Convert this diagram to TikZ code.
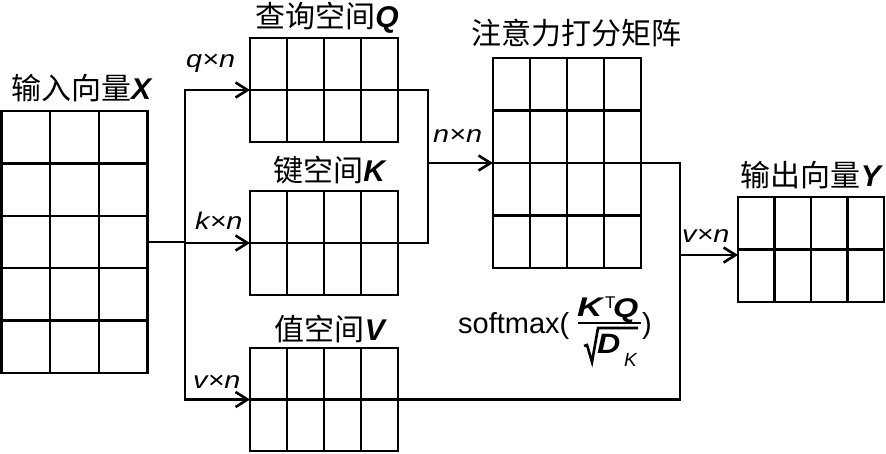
\documentclass[tikz,border=0pt]{standalone}
\usepackage{fontspec}
\setmainfont{Liberation Sans}
\newfontfamily\cjk{Noto Sans CJK SC}
\usetikzlibrary{arrows.meta,calc}
\newcommand{\cells}[3]{%
  \pgfmathtruncatemacro\gnc{#2-1}\pgfmathtruncatemacro\gnr{#3-1}%
  \foreach \i in {1,...,\gnc}{\draw[gridline] ($(#1.north west)!\i/#2!(#1.north east)$) -- ($(#1.south west)!\i/#2!(#1.south east)$);}%
  \foreach \j in {1,...,\gnr}{\draw[gridline] ($(#1.north west)!\j/#3!(#1.south west)$) -- ($(#1.north east)!\j/#3!(#1.south east)$);}%
}
\tikzset{
  grid/.style={draw, line width=2.4pt, inner sep=0pt, outer sep=0pt, rectangle},
  gridline/.style={line width=2.4pt},
  conn/.style={line width=2.5pt, line join=miter},
  arr/.style={line width=2.5pt, -{Straight Barb[length=12pt,width=15pt,line width=2.6pt]}},
  ttl/.style={inner sep=0pt, font=\fontsize{30}{36}\selectfont},
  dim/.style={inner sep=0pt, anchor=base west, font=\fontsize{24}{28}\selectfont\itshape},
  frm/.style={inner sep=0pt, anchor=base west},
}
\newcommand{\bi}[1]{\textbf{\textit{#1}}}
\newcommand{\wide}[1]{\scalebox{1.2}[1]{#1}}
\begin{document}
\begin{tikzpicture}[x=1pt,y=-1pt]
\useasboundingbox (0,0) rectangle (886,453);
% matrices
\node[grid, minimum width=146pt, minimum height=262pt] (X) at (74.5,242) {};
\node[grid, minimum width=148pt, minimum height=104pt] (Q) at (324,90) {};
\node[grid, minimum width=148pt, minimum height=104pt] (K) at (324,243) {};
\node[grid, minimum width=148pt, minimum height=103pt] (V) at (324,399.5) {};
\node[grid, minimum width=148pt, minimum height=210pt] (A) at (567,163) {};
\node[grid, minimum width=146pt, minimum height=105pt] (Y) at (811,249.5) {};
\cells{X}{3}{5}
\cells{Q}{4}{2}
\cells{K}{4}{2}
\cells{V}{4}{2}
\cells{A}{4}{4}
\cells{Y}{4}{2}
% titles
\node[ttl] (tX) at (82,88) {{\cjk 输入向量}\bi{X}};
\node[ttl] (tQ) at (327,18) {{\cjk 查询空间}\bi{Q}};
\node[ttl] (tK) at (330,170) {{\cjk 键空间}\bi{K}};
\node[ttl] (tV) at (331,329) {{\cjk 值空间}\bi{V}};
\node[ttl] (tA) at (576,33) {\cjk 注意力打分矩阵};
\node[ttl] (tY) at (812,175) {{\cjk 输出向量}\bi{Y}};
% connectors
\coordinate (tr) at (185,0);
\coordinate (m1) at (428,0);
\coordinate (m2) at (680,0);
\coordinate (yin) at (0,255);
\draw[conn] (X.east) -- (X.east -| tr);
\draw[conn, line cap=rect] (Q.west -| tr) -- (V.west -| tr);
\draw[arr] (Q.west -| tr) -- (Q.west);
\draw[arr] (K.west -| tr) -- (K.west);
\draw[arr] (V.west -| tr) -- (V.west);
\draw[conn] (Q.east) -- (Q.east -| m1) -- (K.east -| m1) -- (K.east);
\draw[arr] (A.west -| m1) -- (A.west);
\draw[conn] (A.east) -- (A.east -| m2) -- (V.east -| m2) -- (V.east);
\draw[arr] (m2 |- yin) -- (Y.west |- yin);
% dimension labels
\node[dim] (dq) at (186,67) {\wide{q×n}};
\node[dim] (dk) at (195,229) {\wide{k×n}};
\node[dim] (dv) at (193,388) {\wide{v×n}};
\node[dim] (dn) at (433,142) {\wide{n×n}};
\node[dim] (dy) at (682,242) {\wide{v×n}};
% formula
\node[frm, font=\fontsize{29}{34}\selectfont] (sm) at (458,333) {softmax(};
\node[frm, font=\fontsize{27}{30}\selectfont] (nk) at (577,316) {\scalebox{1.3}[1]{\bi{K}}};
\node[frm, font=\fontsize{17}{18}\selectfont] (nt) at (605,308) {T};
\node[frm, font=\fontsize{27}{30}\selectfont] (nq) at (613,317) {\scalebox{1.2}[1]{\bi{Q}}};
\draw[line width=2.2pt] (578,323) -- (641,323);
\draw[line width=2.6pt, line join=miter] (584,346) -- (587,345) -- (592,362) -- (598,328) -- (638,328);
\node[frm, font=\fontsize{28}{32}\selectfont] (den) at (597,353) {\scalebox{1.15}[1]{\bi{D}}};
\node[frm, font=\fontsize{19}{22}\selectfont\itshape] (sub) at (624,366) {K};
\node[frm, font=\fontsize{29}{34}\selectfont] (rp) at (642,333) {)};
\end{tikzpicture}
\end{document}
